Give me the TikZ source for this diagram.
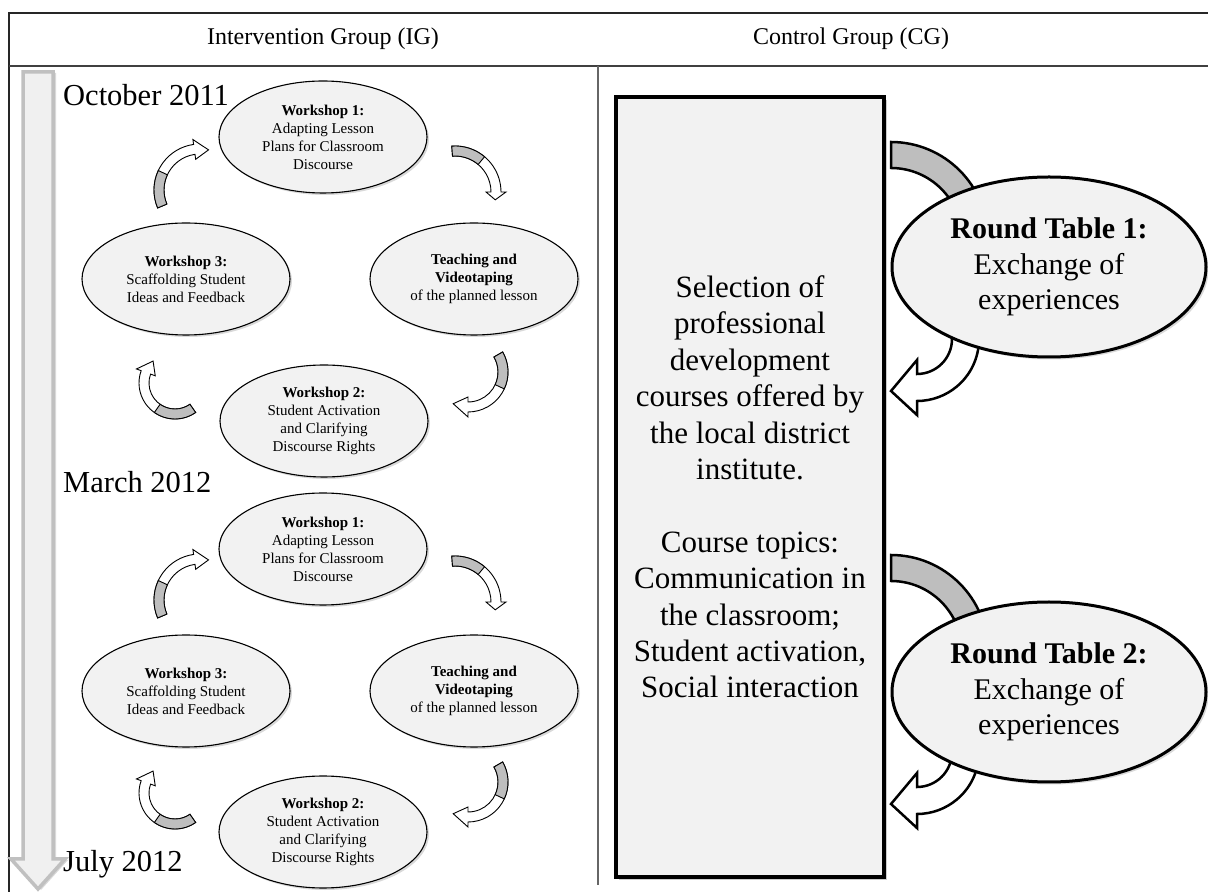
\documentclass[tikz,border=0pt]{standalone}
\usepackage{fontspec}
\setmainfont{Liberation Serif}
\usetikzlibrary{calc,shapes.geometric,shadows}

\definecolor{paler}{RGB}{242,242,242}
\definecolor{underside}{RGB}{190,190,190}
\definecolor{timefill}{RGB}{240,240,240}
\definecolor{timeedge}{RGB}{192,192,192}

\tikzset{
  headtext/.style={inner sep=0pt, font=\fontsize{24}{28}\selectfont},
  datetext/.style={inner sep=0pt, font=\fontsize{30.5}{35}\selectfont},
  stage/.style={ellipse, draw=black, line width=1.1pt, fill=paler,
    minimum width=208pt, minimum height=112pt, inner sep=0pt, align=center,
    font=\fontsize{15}{18}\selectfont,
    drop shadow={shadow xshift=2pt, shadow yshift=-2pt, opacity=.3}},
  roundtable/.style={ellipse, draw=black, line width=3pt, fill=paler,
    minimum width=314pt, minimum height=180pt, inner sep=0pt, align=center,
    font=\fontsize{30}{35.5}\selectfont,
    drop shadow={shadow xshift=2.5pt, shadow yshift=-2.5pt, opacity=.3}},
  cgbox/.style={rectangle, draw=black, line width=3.5pt, fill=paler,
    minimum width=268pt, minimum height=780pt, inner sep=0pt, align=center,
    font=\fontsize{31}{36.4}\selectfont,
    drop shadow={shadow xshift=3pt, shadow yshift=-3pt, opacity=.4}},
  cyclearrow/.style={draw=black, line width=0.9pt, line join=miter},
  bandarrow/.style={draw=black, line width=2.5pt, line join=miter},
}

% curved block arrow around centre #1, mid radius #2, from angle #3,
% head starting at angle #4 with its tip at angle #5; the tail part up to
% angle #6 is shaded
\newcommand{\turnarrow}[6]{%
  \filldraw[cyclearrow, fill=white]
    ($(#1)+(#3:{#2+5})$) arc[start angle=#3, end angle=#4, radius={#2+5}]
    -- ($(#1)+(#4:{#2+10})$) -- ($(#1)+(#5:{#2})$)
    -- ($(#1)+(#4:{#2-10})$) -- ($(#1)+(#4:{#2-5})$)
    arc[start angle=#4, end angle=#3, radius={#2-5}] -- cycle;
  \filldraw[cyclearrow, fill=underside]
    ($(#1)+(#3:{#2+5})$) arc[start angle=#3, end angle=#6, radius={#2+5}]
    -- ($(#1)+(#6:{#2-5})$)
    arc[start angle=#6, end angle=#3, radius={#2-5}] -- cycle;
}

\begin{document}
\begin{tikzpicture}[x=1pt,y=1pt]
\useasboundingbox (0,0) rectangle (1208,892);

% table rules
\draw[line width=2pt, black!85] (1208,879) -- (9,879) -- (9,0);
\draw[line width=1.3pt, black!75] (9,826) -- (1208,826);
\draw[line width=1.3pt, black!60] (598,826) -- (598,7);

% column heads
\node[headtext, anchor=base] (ighead) at (323,847) {Intervention Group (IG)};
\node[headtext, anchor=base] (cghead) at (851,847) {Control Group (CG)};

% time line
\filldraw[fill=timefill, draw=timeedge, line width=3.5pt, line join=miter,
  drop shadow={shadow xshift=3pt, shadow yshift=-1pt, opacity=.3}]
  (23,820) -- (53,820) -- (53,33) -- (65,33) -- (38,3) -- (11,33) -- (23,33) -- cycle;

\node[datetext, anchor=base west] (oct) at (63,786) {October 2011};
\node[datetext, anchor=base west] (mar) at (63,399) {March 2012};
\node[datetext, anchor=base west] (jul) at (63,20) {July 2012};

% first cycle
\coordinate (t1) at (200,702);
\coordinate (t2) at (455,700);
\coordinate (t3) at (468,520);
\coordinate (t4) at (175,509);
\turnarrow{t1}{41}{-157}{-262}{-282}{-205}
\turnarrow{t2}{41}{-266}{-360}{-371}{-310}
\turnarrow{t3}{35}{30}{-90}{-115}{-25}
\turnarrow{t4}{31}{-55}{-200}{-225}{-125}

\node[stage] (wa1) at (323,755) {\textbf{Workshop 1:}\\Adapting Lesson\\Plans for Classroom\\Discourse};
\node[stage] (tva) at (474,613) {\textbf{Teaching and}\\\textbf{Videotaping}\\of the planned lesson};
\node[stage] (wa3) at (186,613) {\textbf{Workshop 3:}\\Scaffolding Student\\Ideas and Feedback};
\node[stage] (wa2) at (324,471) {\textbf{Workshop 2:}\\Student Activation\\and Clarifying\\Discourse Rights};

% second cycle
\coordinate (t5) at (200,292);
\coordinate (t6) at (455,290);
\coordinate (t7) at (468,110);
\coordinate (t8) at (175,99);
\turnarrow{t5}{41}{-157}{-262}{-282}{-205}
\turnarrow{t6}{41}{-266}{-360}{-371}{-310}
\turnarrow{t7}{35}{30}{-90}{-115}{-25}
\turnarrow{t8}{31}{-55}{-200}{-225}{-125}

\node[stage] (wb1) at (323,343) {\textbf{Workshop 1:}\\Adapting Lesson\\Plans for Classroom\\Discourse};
\node[stage] (tvb) at (474,201) {\textbf{Teaching and}\\\textbf{Videotaping}\\of the planned lesson};
\node[stage] (wb3) at (186,201) {\textbf{Workshop 3:}\\Scaffolding Student\\Ideas and Feedback};
\node[stage] (wb2) at (323,60) {\textbf{Workshop 2:}\\Student Activation\\and Clarifying\\Discourse Rights};

% control group
\node[cgbox] (cg) at (750,405) {Selection of\\professional\\development\\courses offered by\\the local district\\institute.\\[36.4pt]Course topics:\\Communication in\\the classroom;\\Student activation,\\Social interaction};

% arrows to and from the round tables
\coordinate (ra1) at (891,653);
\coordinate (rb1) at (917,553);
\coordinate (ra2) at (891,240);
\coordinate (rb2) at (917,140);
\foreach \a/\b in {ra1/rb1, ra2/rb2}{
  \filldraw[bandarrow, fill=underside]
    ($(\a)+(90:97)$) arc[start angle=90, end angle=0, radius=97]
    -- ($(\a)+(0:71)$) arc[start angle=0, end angle=90, radius=71] -- cycle;
  \filldraw[bandarrow, fill=white]
    ($(\b)+(40:62)$) arc[start angle=40, end angle=-90, radius=62]
    -- ($(\b)+(-90:76)$) -- ($(\b)+(-26,-52)$) -- ($(\b)+(-90:21)$)
    -- ($(\b)+(-90:35)$) arc[start angle=-90, end angle=40, radius=35] -- cycle;
}

\node[roundtable] (rt1) at (1049,625) {\textbf{Round Table 1:}\\Exchange of\\experiences};
\node[roundtable] (rt2) at (1049,200) {\textbf{Round Table 2:}\\Exchange of\\experiences};
\end{tikzpicture}
\end{document}
